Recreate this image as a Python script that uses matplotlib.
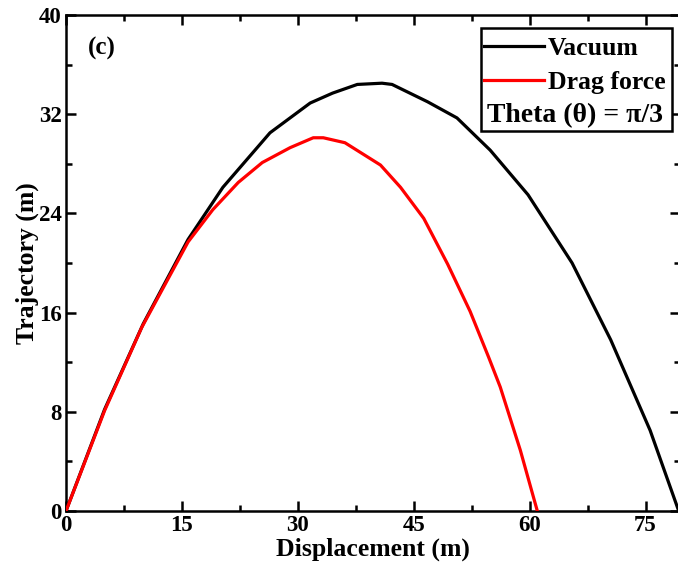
import matplotlib
matplotlib.use("Agg")
import matplotlib.pyplot as plt
from matplotlib.patches import Rectangle
from matplotlib.lines import Line2D
from matplotlib.ticker import MultipleLocator

# ---- data
vac_x = [0, 5.0, 10.0, 15.8, 20.3, 26.4, 31.6, 34.5, 37.7, 40.9, 42.2,
         46.8, 50.6, 54.9, 59.8, 65.5, 70.5, 75.6, 79.3]
vac_y = [0, 8.2, 15.1, 21.9, 26.1, 30.5, 32.9, 33.7, 34.4, 34.5, 34.4,
         33.0, 31.7, 29.1, 25.5, 20.0, 13.8, 6.5, 0.0]

drag_x = [0, 5.0, 9.8, 15.8, 19.0, 22.3, 25.4, 29.0, 32.0, 33.3, 36.1,
          40.7, 43.3, 46.3, 49.4, 52.3, 54.7, 56.2, 58.8, 61.0]
drag_y = [0, 8.1, 14.8, 21.7, 24.3, 26.5, 28.1, 29.3, 30.1, 30.1, 29.7,
          27.9, 26.1, 23.6, 19.9, 16.1, 12.4, 10.0, 4.9, 0.0]

xticks = [0, 15, 30, 45, 60, 75]
yticks = [0, 8, 16, 24, 32, 40]

SERIF = ["Liberation Serif", "DejaVu Serif"]
plt.rcParams["font.family"] = SERIF
plt.rcParams["font.weight"] = "bold"

fig = plt.figure(figsize=(6.78, 5.68), dpi=100)
W, H = 678, 568
ax = fig.add_axes([66 / W, (H - 511) / H, (679.5 - 66) / W, (511 - 15) / H])

ax.plot(vac_x, vac_y, color="black", lw=2.3, label="Vacuum", zorder=3)
ax.plot(drag_x, drag_y, color="#ff0000", lw=2.3, label="Drag force", zorder=3)

ax.set_xlim(0, 79.4)
ax.set_ylim(0, 40)
ax.set_xticks(xticks)
ax.set_yticks(yticks)
ax.xaxis.set_minor_locator(MultipleLocator(7.5))
ax.yaxis.set_minor_locator(MultipleLocator(4))
ax.tick_params(which="both", direction="in", top=True, right=True, width=1.8,
               labelsize=16.5)
ax.tick_params(which="major", length=7, pad=3)
ax.tick_params(which="minor", length=4)
for lab in ax.get_xticklabels() + ax.get_yticklabels():
    lab.set_fontweight("bold")
for s in ax.spines.values():
    s.set_linewidth(1.8)

ax.set_xlabel("Displacement (m)", fontsize=18.5, fontweight="bold", labelpad=1)
ax.set_ylabel("Trajectory (m)", fontsize=18.5, fontweight="bold", labelpad=0)

ax.text(0.036, 0.933, "(c)", transform=ax.transAxes, fontsize=18,
        fontweight="bold", ha="left", va="center")

# legend box (frame drawn by hand so the theta line sits inside it)
bx0, bx1 = (481 - 66) / 613.5, (672 - 66) / 613.5
by0, by1 = (511 - 131) / 496, (511 - 28) / 496
ax.add_patch(Rectangle((bx0, by0), bx1 - bx0, by1 - by0, transform=ax.transAxes,
                       fill=True, fc="white", ec="black", lw=1.8, zorder=5))
handles = [Line2D([], [], color="black", lw=2.3),
           Line2D([], [], color="#ff0000", lw=2.3)]
leg = ax.legend(handles, ["Vacuum", "Drag force"], loc="upper left",
                bbox_to_anchor=(bx0 - 0.008, by1 - 0.002), frameon=False,
                prop=dict(family=SERIF, weight="bold", size=18.5),
                handlelength=2.35, handletextpad=0.15, labelspacing=0.45,
                borderaxespad=0, borderpad=0.3)
leg.set_zorder(6)
ax.text(bx0 + 0.009, (511 - 116) / 496, "Theta (\u03b8) = \u03c0/3",
        transform=ax.transAxes, fontsize=20, fontweight="bold",
        ha="left", va="center", zorder=6)

fig.savefig("out.png", dpi=100)
